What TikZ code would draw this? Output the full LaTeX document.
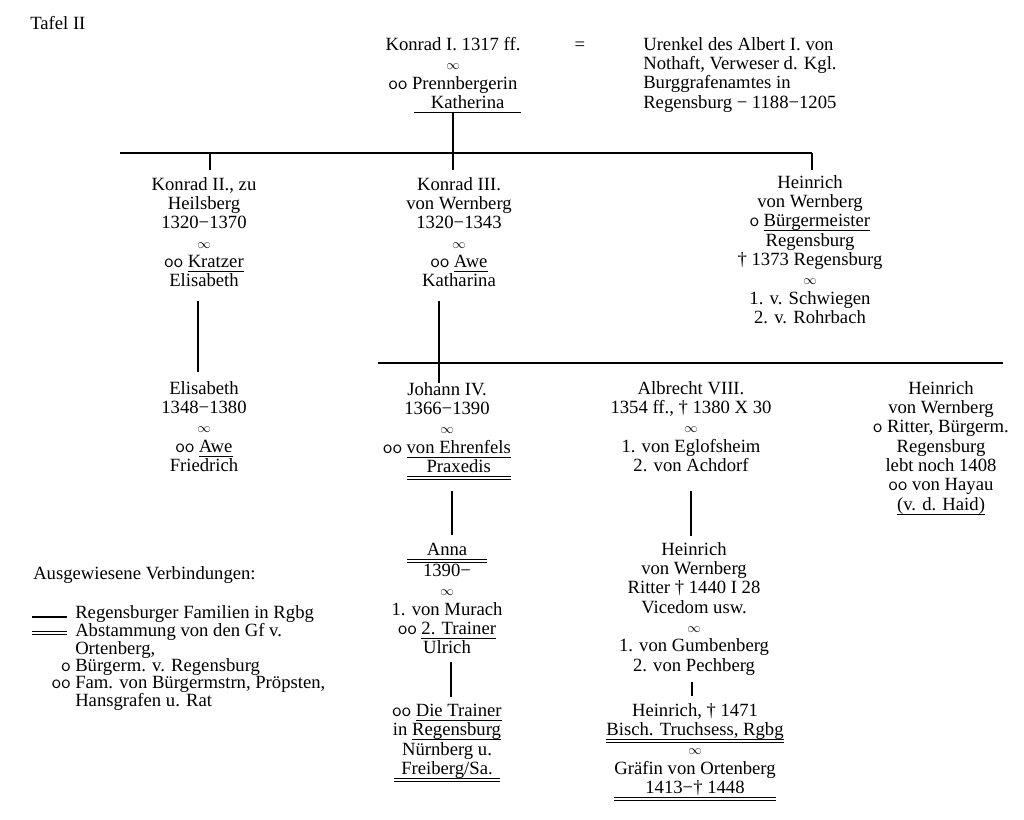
\documentclass[tikz,border=0pt]{standalone}
\usepackage{fontspec}
\setmainfont{Liberation Serif}
\usepackage{calc}
\usetikzlibrary{calc}
\newcommand\ringo{\textsf{o}}
\newcommand\ringoo{\textsf{oo}}
\newcommand\marr{$\scriptstyle\infty$}
\newcommand\dd{−}
\newcommand\nodepth[1]{\raisebox{0pt}[\height][1.3pt]{#1}}
\newcommand\sul[1]{\underline{\nodepth{#1}}}
\newcommand\dul[1]{$\underline{\underline{\hbox{\nodepth{#1}}}}$}
\begin{document}
\begin{tikzpicture}[x=0.75pt,y=-0.75pt,
  every node/.style={inner sep=0pt, font=\fontsize{14}{14.5}\selectfont},
  blk/.style={align=center, anchor=north},
  lft/.style={align=left, anchor=north west},
  legtxt/.style={align=left, anchor=west, font=\fontsize{14}{13.4}\selectfont},
  link/.style={line width=0.9pt}]
\fill[white] (0,0) rectangle (1024,820);
\useasboundingbox (0,0) rectangle (1024,820);

\node[anchor=west] (tafel) at (30,23) {Tafel II};

% generation 1
\node[blk] (k1) at (453,37) {Konrad I. 1317 ff.\\ \marr\\ \ringoo\ Prennbergerin\\ \hspace*{22pt}\sul{\makebox[80pt]{Katherina}}};
\node (eq) at (580,46) {=};
\node[lft] (ur) at (643,37) {Urenkel des Albert I. von\\Nothaft, Verweser d. Kgl.\\Burggrafenamtes in\\Regensburg \dd\ 1188\dd1205};

% generation 2
\node[blk] (k2) at (204,177) {Konrad II., zu\\Heilsberg\\1320\dd1370\\ \marr\\ \ringoo\ \sul{Kratzer}\\Elisabeth};
\node[blk] (k3) at (459,177) {Konrad III.\\von Wernberg\\1320\dd1343\\ \marr\\ \ringoo\ \sul{Awe}\\Katharina};
\node[blk] (h1) at (810,175) {Heinrich\\von Wernberg\\ \ringo\ \sul{Bürgermeister}\\Regensburg\\† 1373 Regensburg\\ \marr\\1. v. Schwiegen\\2. v. Rohrbach};

\coordinate (jl) at (120,153);
\coordinate (jr) at (812,153);
\draw[link] (jl) -- (jr);
\draw[link] (k1.south) -- ($(k1.south |- k3.north)+(0,-7)$);
\draw[link] ($(k2.north |- jl)+(6,0)$) -- ($(k2.north)+(6,-7)$);
\draw[link] (jr) -- ($(jr |- h1.north)+(0,-5)$);

% generation 3
\node[blk] (e1) at (204,381) {Elisabeth\\1348\dd1380\\ \marr\\ \ringoo\ \sul{Awe}\\Friedrich};
\node[blk] (j4) at (447,382) {Johann IV.\\1366\dd1390\\ \marr\\ \ringoo\ \sul{von Ehrenfels}\\ \hphantom{\ringoo\ }\dul{\makebox[\widthof{von Ehrenfels}]{Praxedis}}};
\node[blk] (alb) at (691,381) {Albrecht VIII.\\1354 ff., † 1380 X 30\\ \marr\\1. von Eglofsheim\\2. von Achdorf};
\node[blk] (h2) at (941,381) {Heinrich\\von Wernberg\\ \ringo\ Ritter, Bürgerm.\\Regensburg\\lebt noch 1408\\ \ringoo\ von Hayau\\ \sul{(v. d. Haid)}};

\coordinate (ml) at (378,363);
\coordinate (mr) at (1003,363);
\draw[link] (ml) -- (mr);
\draw[link] ($(k2.south)+(-6,14)$) -- ($(e1.north)+(-6,-9)$);
\draw[link] ($(k3.south)+(-20,14)$) -- ($(j4.north)+(-8,1)$);

% generation 4
\node[blk] (anna) at (447,543) {\dul{\makebox[60pt]{Anna}}\\1390\dd\\ \marr\\1. von Murach\\ \ringoo\ \sul{2. Trainer}\\Ulrich};
\node[blk] (trainer) at (447,704) {\ringoo\ \sul{Die Trainer}\\in \sul{Regensburg}\\Nürnberg u.\\ \dul{\makebox[79.5pt]{Freiberg/Sa.}}};
\node[blk] (h3a) at (694,542) {Heinrich\\von Wernberg\\Ritter † 1440 I 28\\Vicedom usw.\\ \marr\\1. von Gumbenberg\\2. von Pechberg};
\node[blk] (h3b) at (695,703) {Heinrich, † 1471\\ \dul{Bisch. Truchsess, Rgbg}\\ \marr\\Gräfin von Ortenberg\\ \dul{\makebox[121pt]{1413\dd† 1448}}};

\draw[link] ($(j4.south)+(5,11)$) -- ($(anna.north)+(5,-8)$);
\draw[link] ($(alb.south |- j4.south)+(0,11)$) -- ($(h3a.north)+(-3,-6)$);
\draw[link] ($(anna.south)+(4,8)$) -- ($(trainer.north)+(4,-7)$);
\draw[link] ($(h3a.south)+(-2,6)$) -- ($(h3b.north)+(-3,-7)$);

% legend
\node[anchor=west] (leg) at (33,575) {Ausgewiesene Verbindungen:};
\node[legtxt] (l1) at (75,614) {Regensburger Familien in Rgbg};
\node[legtxt, anchor=north west] (l2) at (75,623) {Abstammung von den Gf v.\\Ortenberg,};
\node[legtxt] (l3) at (75,667) {\llap{\ringo\ }Bürgerm. v. Regensburg};
\node[legtxt, anchor=north west] (l4) at (75,676) {\llap{\ringoo\ }Fam. von Bürgermstrn, Pröpsten,\\Hansgrafen u. Rat};
\draw[link] ($(l1.west)+(-43,3)$) -- ($(l1.west)+(-8,3)$);
\draw[line width=0.7pt, double distance=1.4pt] ($(l2.north west)+(-43,10)$) -- ($(l2.north west)+(-8,10)$);
\end{tikzpicture}
\end{document}
